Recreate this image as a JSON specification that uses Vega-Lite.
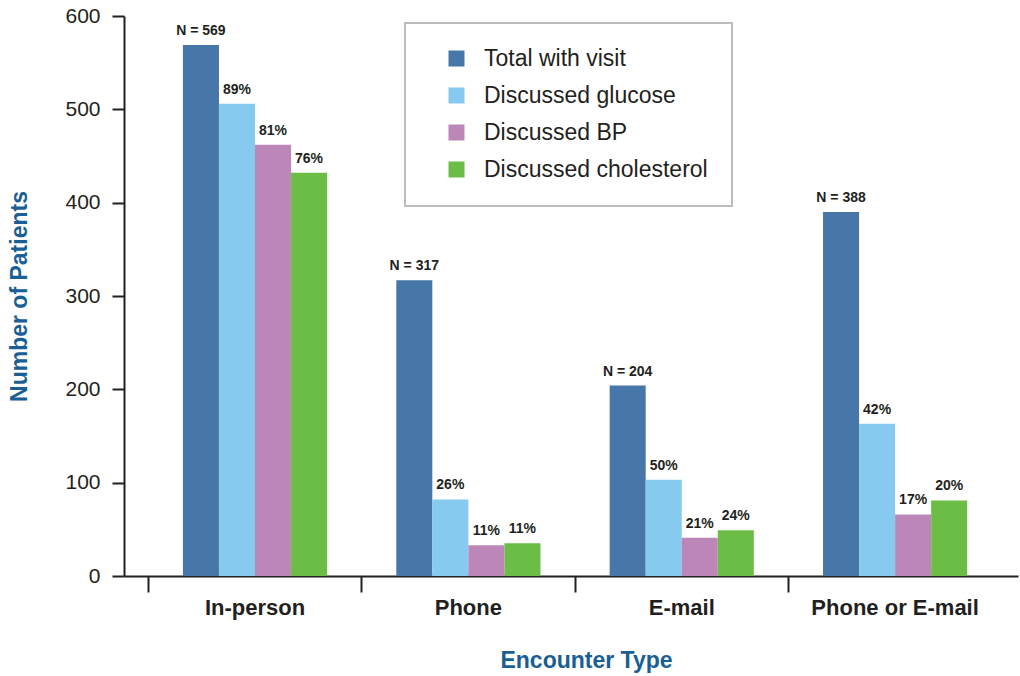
{
  "$schema": "https://vega.github.io/schema/vega-lite/v6.json",
  "width": 894,
  "height": 560,
  "autosize": {"type": "none"},
  "padding": {"left": 124, "top": 16, "right": 2, "bottom": 100},
  "background": "white",
  "config": {
    "view": {"stroke": null},
    "font": "Liberation Sans"
  },
  "data": {
    "values": [
      {"group": "In-person", "metric": "Total with visit", "value": 569, "label": "N = 569"},
      {"group": "In-person", "metric": "Discussed glucose", "value": 506, "label": "89%"},
      {"group": "In-person", "metric": "Discussed BP", "value": 462, "label": "81%"},
      {"group": "In-person", "metric": "Discussed cholesterol", "value": 432, "label": "76%"},
      {"group": "Phone", "metric": "Total with visit", "value": 317, "label": "N = 317"},
      {"group": "Phone", "metric": "Discussed glucose", "value": 82, "label": "26%"},
      {"group": "Phone", "metric": "Discussed BP", "value": 33, "label": "11%"},
      {"group": "Phone", "metric": "Discussed cholesterol", "value": 35, "label": "11%"},
      {"group": "E-mail", "metric": "Total with visit", "value": 204, "label": "N = 204"},
      {"group": "E-mail", "metric": "Discussed glucose", "value": 103, "label": "50%"},
      {"group": "E-mail", "metric": "Discussed BP", "value": 41, "label": "21%"},
      {"group": "E-mail", "metric": "Discussed cholesterol", "value": 49, "label": "24%"},
      {"group": "Phone or E-mail", "metric": "Total with visit", "value": 390, "label": "N = 388"},
      {"group": "Phone or E-mail", "metric": "Discussed glucose", "value": 163, "label": "42%"},
      {"group": "Phone or E-mail", "metric": "Discussed BP", "value": 66, "label": "17%"},
      {"group": "Phone or E-mail", "metric": "Discussed cholesterol", "value": 81, "label": "20%"}
    ]
  },
  "encoding": {
    "x": {
      "field": "group",
      "type": "nominal",
      "sort": ["In-person", "Phone", "E-mail", "Phone or E-mail"],
      "scale": {"paddingInner": 0, "paddingOuter": 0.095, "align": 0.6},
      "axis": {
        "title": "Encounter Type",
        "titleX": 462,
        "labelAngle": 0,
        "bandPosition": 0,
        "tickSize": 16,
        "tickWidth": 2,
        "tickColor": "#231f20",
        "domainWidth": 2,
        "domainColor": "#231f20",
        "labelFontSize": 22,
        "labelFontWeight": "bold",
        "labelColor": "#231f20",
        "labelPadding": 5,
        "titleFontSize": 23,
        "titleFontWeight": "bold",
        "titleColor": "#1a5e96",
        "titlePadding": 31,
        "grid": false
      }
    },
    "xOffset": {
      "field": "metric",
      "type": "nominal",
      "sort": ["Total with visit", "Discussed glucose", "Discussed BP", "Discussed cholesterol"],
      "scale": {"paddingInner": 0, "paddingOuter": 0.96}
    },
    "y": {
      "field": "value",
      "type": "quantitative",
      "scale": {"domain": [0, 600], "nice": false},
      "axis": {
        "title": "Number of Patients",
        "values": [0, 100, 200, 300, 400, 500, 600],
        "grid": false,
        "tickSize": 12,
        "tickWidth": 2,
        "tickColor": "#231f20",
        "domainWidth": 2,
        "domainColor": "#231f20",
        "labelFontSize": 21,
        "labelColor": "#231f20",
        "labelPadding": 12,
        "titleFontSize": 23,
        "titleFontWeight": "bold",
        "titleColor": "#1a5e96",
        "titlePadding": 33
      }
    }
  },
  "layer": [
    {
      "mark": {"type": "bar"},
      "encoding": {
        "color": {
          "field": "metric",
          "type": "nominal",
          "sort": ["Total with visit", "Discussed glucose", "Discussed BP", "Discussed cholesterol"],
          "scale": {
            "domain": ["Total with visit", "Discussed glucose", "Discussed BP", "Discussed cholesterol"],
            "range": ["#4677a8", "#86cbef", "#bc86b9", "#6cbd45"]
          },
          "legend": {
            "title": null,
            "orient": "none",
            "legendX": 281,
            "legendY": 7,
            "padding": 24,
            "symbolOffset": 16,
            "strokeColor": "#bdbdbd",
            "fillColor": "white",
            "symbolType": "square",
            "symbolSize": 256,
            "symbolStrokeWidth": 0,
            "labelFontSize": 23,
            "labelColor": "#231f20",
            "labelOffset": 16,
            "rowPadding": 13,
            "labelLimit": 400,
            "encode": {"legend": {"update": {"strokeWidth": {"value": 2}}}}
          }
        }
      }
    },
    {
      "mark": {
        "type": "text",
        "baseline": "alphabetic",
        "dy": -10,
        "fontSize": 14,
        "fontWeight": "bold",
        "color": "#231f20"
      },
      "encoding": {
        "text": {"field": "label"}
      }
    }
  ]
}
